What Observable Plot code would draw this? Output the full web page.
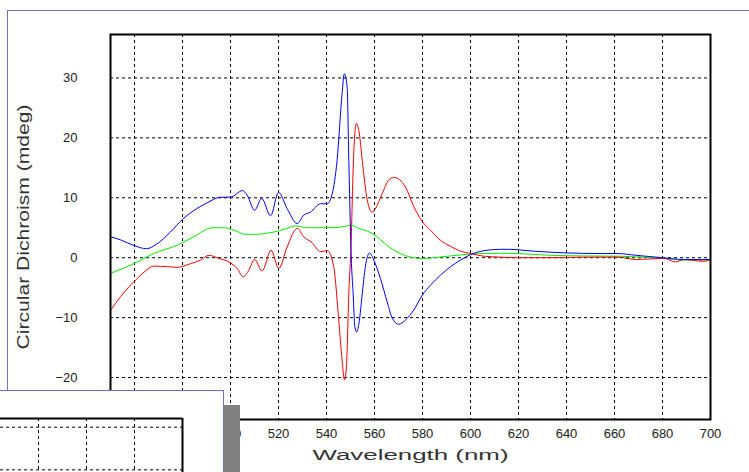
<!DOCTYPE html>
<html>
<head>
<meta charset="utf-8">
<script src="https://cdn.jsdelivr.net/npm/d3@7"></script>
<script src="https://cdn.jsdelivr.net/npm/@observablehq/plot@0.6"></script>
<style>
  html, body { margin: 0; padding: 0; background: #fff; }
  #wrap { position: relative; width: 749px; height: 472px; overflow: hidden; background: #fff; }
  #wrap svg { display: block; }
  .chrome { position: absolute; background: #7272b4; }
  #win { position: absolute; left: 0; top: 390px; width: 224px; height: 82px; box-sizing: border-box;
         border-top: 1px solid #7272b4; border-right: 1px solid #7272b4; background: #fff; }
  #shadow { position: absolute; left: 224px; top: 405px; width: 16px; height: 67px; background: #808080; }
</style>
</head>
<body>
<div id="wrap"></div>
<script>
// ---- data (wavelength nm, CD mdeg) ----
const xTicks = [460, 480, 500, 520, 540, 560, 580, 600, 620, 640, 660, 680, 700];
const yTicks = [-20, -10, 0, 10, 20, 30];
const xTitle = "Wavelength (nm)";
const yTitle = "Circular Dichroism (mdeg)";

const blue = [[450,3.5],[454,3.0],[460,2.0],[465,1.5],[469,2.2],[475,4.3],[480,6.4],[486,8.2],[490,9.1],[496,10.1],[500,10.1],[505,11.2],[507,10.4],[510,7.9],[513,9.9],[516.7,7.0],[520,10.9],[523.6,8.2],[527.8,5.7],[530.5,7.1],[533.3,7.6],[537.5,9.0],[540.3,9.0],[542.4,10.7],[544.4,16.2],[546.5,27.4],[547.4,30.7],[548.6,28.5],[549.3,16.2],[550.3,0.1],[551.1,-6],[551.8,-11.5],[552.5,-12.4],[553.5,-11],[554.9,-6],[556.2,-1.5],[558,0.8],[559.7,-0.4],[562.5,-3.5],[565.3,-7.4],[567.4,-10.1],[570.1,-11.1],[572.9,-10.4],[576.4,-8.7],[580,-6.2],[583.3,-4.6],[587.5,-2.9],[591.7,-1.5],[595.8,-0.4],[600,0.5],[606,1.2],[612.5,1.4],[616,1.4],[626,1.1],[640,0.8],[654,0.7],[661,0.7],[669,0.4],[680,0.0],[689,-0.3],[700,-0.3]];

const red = [[450,-8.8],[454.2,-6.5],[460.4,-3.75],[464,-2.4],[468,-1.4],[473.6,-1.5],[477.8,-1.6],[483.3,-1.0],[487.5,-0.4],[491,0.4],[495,-0.1],[499.3,-0.7],[502.8,-1.8],[505.3,-3.2],[507.6,-2.1],[510,-0.3],[513.2,-2.2],[516.9,1.25],[520.1,-1.8],[523.6,1.8],[527.8,4.9],[530.5,3.5],[534,2.5],[537.5,1.0],[540.3,1.2],[543,-1.5],[545.1,-10.4],[546.5,-17.1],[547.5,-20.4],[548.3,-18.2],[549.3,-6],[550.3,2.9],[551,13.5],[551.8,20.7],[552.5,22.4],[553.5,21.2],[554.9,16.2],[557,9.6],[559,7.6],[560.4,8.2],[563.2,10.7],[566,13.0],[568,13.4],[570.5,13.0],[572.9,11.8],[576.4,8.5],[580,6.0],[583.3,4.6],[587.5,2.9],[591.7,1.9],[595.8,1.1],[600,0.7],[605.5,0.25],[612.5,0.1],[619.4,0.0],[633.3,0.0],[647.2,0.1],[661,0.1],[669.4,-0.3],[680.5,-0.1],[685.4,-0.7],[689,-0.3],[697.2,-0.6],[700,-0.3]];

const green = [[450,-2.6],[459.7,-1.0],[468,0.7],[477.8,2.1],[484.7,3.5],[492.4,5.0],[497.2,5.0],[501.4,4.6],[506.2,3.9],[511,3.9],[515.3,4.1],[519.4,4.4],[523.6,4.9],[527,5.3],[532,5.0],[540.3,5.0],[545.8,5.1],[550.3,5.4],[553.5,4.9],[559.7,3.9],[562.5,3.0],[566.7,1.6],[570.8,0.7],[575,0.1],[580.5,-0.15],[584.7,0.0],[591.7,0.3],[600,0.6],[612.5,0.75],[619.4,0.7],[633.3,0.4],[647.2,0.3],[661,0.25],[680.5,-0.1],[689,-0.4],[700,-0.4]];

// second (overlapping) window: same grid, only its corner is visible
const miniXTicks = [640, 660, 680];
const miniYTicks = [20, 30];

const font = "'Liberation Sans', Arial, sans-serif";
const dash = {stroke: "#000", strokeOpacity: 1, strokeWidth: 1, strokeDasharray: "3,3"};

const chart = Plot.plot({
  width: 749, height: 472,
  marginLeft: 110, marginRight: 39, marginTop: 34, marginBottom: 53,
  style: {fontFamily: font, fontSize: "13px", color: "#222", background: "transparent"},
  x: {domain: [450, 700]},
  y: {domain: [-27, 37.25]},
  marks: [
    Plot.gridX(xTicks, dash),
    Plot.gridY(yTicks, dash),
    Plot.line(green, {x: d => d[0], y: d => d[1], stroke: "#00ee00", strokeWidth: 1, curve: "monotone-x"}),
    Plot.line(red, {x: d => d[0], y: d => d[1], stroke: "#ff0000", strokeWidth: 1, curve: "monotone-x"}),
    Plot.line(blue, {x: d => d[0], y: d => d[1], stroke: "#0000ff", strokeWidth: 1, curve: "monotone-x"}),
    Plot.frame({stroke: "#000", strokeWidth: 2}),
    Plot.axisX(xTicks, {tickSize: 0, tickPadding: 9, label: null, fontSize: 13}),
    Plot.axisY(yTicks, {tickSize: 0, tickPadding: 33, label: null, fontSize: 13}),
    Plot.text([xTitle], {frameAnchor: "bottom", dy: 36, lineAnchor: "middle", textAnchor: "middle", fontSize: 14, fill: "#333"}),
    Plot.text([yTitle], {frameAnchor: "left", dx: -87, rotate: -90, lineAnchor: "middle", textAnchor: "middle", fontSize: 17, fill: "#333"})
  ]
});

const wrap = document.getElementById("wrap");
wrap.appendChild(chart);

// stretch titles to the widths in the reference
for (const t of chart.querySelectorAll("text")) {
  if (t.textContent === xTitle) { t.setAttribute("textLength", 196); t.setAttribute("lengthAdjust", "spacingAndGlyphs"); }
  if (t.textContent === yTitle) { t.setAttribute("textLength", 245); t.setAttribute("lengthAdjust", "spacingAndGlyphs"); }
}

// window chrome of the screenshot
const topLine = document.createElement("div");
topLine.className = "chrome"; Object.assign(topLine.style, {left: "7px", top: "10px", width: "742px", height: "1px"});
wrap.appendChild(topLine);
const leftLine = document.createElement("div");
leftLine.className = "chrome"; Object.assign(leftLine.style, {left: "7px", top: "10px", width: "1px", height: "381px"});
wrap.appendChild(leftLine);

const win = document.createElement("div");
win.id = "win";
wrap.appendChild(win);
const mini = Plot.plot({
  width: 223, height: 81,
  marginLeft: 0, marginRight: 41, marginTop: 27, marginBottom: 0,
  style: {background: "#fff"},
  x: {domain: [624.17, 700], axis: null},
  y: {domain: [19.37, 32.04], axis: null},
  marks: [
    Plot.gridX(miniXTicks, dash),
    Plot.gridY(miniYTicks, dash),
    Plot.ruleY([32.04], {stroke: "#000", strokeWidth: 2}),
    Plot.ruleX([700], {stroke: "#000", strokeWidth: 2})
  ]
});
win.appendChild(mini);

const shadow = document.createElement("div");
shadow.id = "shadow";
wrap.appendChild(shadow);
</script>
</body>
</html>
